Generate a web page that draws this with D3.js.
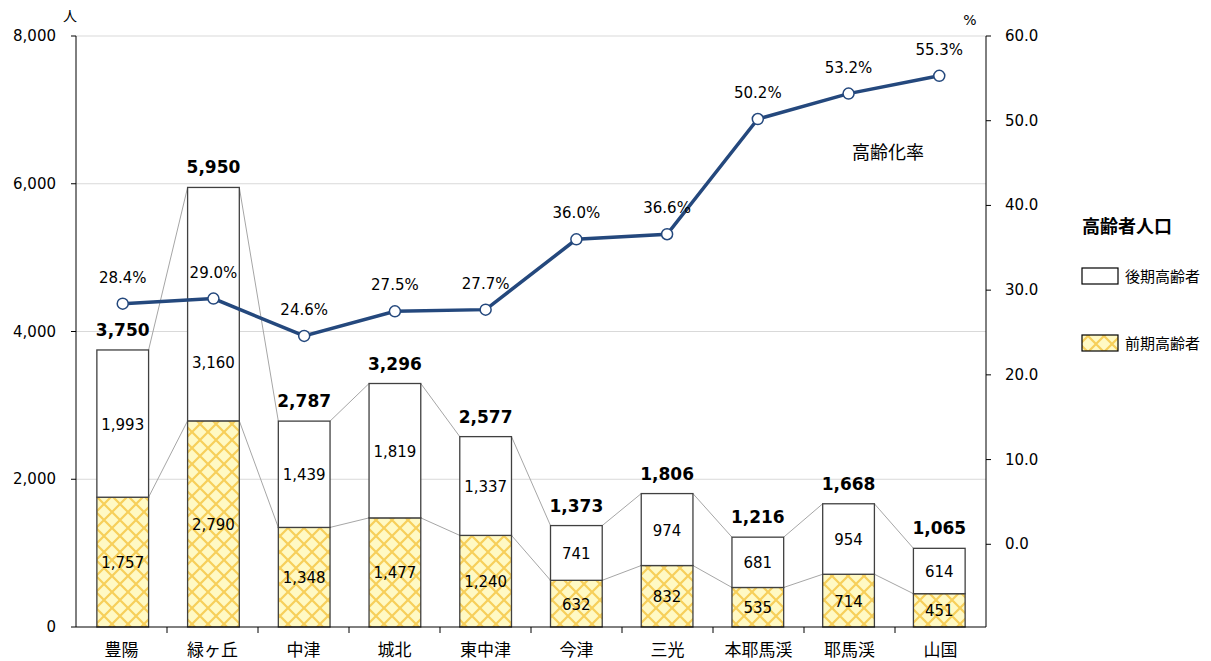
<!DOCTYPE html>
<html><head><meta charset="utf-8">
<script src="https://cdn.jsdelivr.net/npm/d3@7"></script>
<style>
body{margin:0;background:#fff;}
svg text{font-family:"DejaVu Sans","Noto Sans CJK JP",sans-serif;fill:#000;}
</style></head>
<body><svg id="c" width="1211" height="661"></svg>
<script>
const categories = ["豊陽","緑ヶ丘","中津","城北","東中津","今津","三光","本耶馬渓","耶馬渓","山国"];
const earlyElderly = [1757,2790,1348,1477,1240,632,832,535,714,451];
const lateElderly = [1993,3160,1439,1819,1337,741,974,681,954,614];
const agingRate = [28.4,29.0,24.6,27.5,27.7,36.0,36.6,50.2,53.2,55.3];
const leftTicks = [0,2000,4000,6000,8000];
const rightTicks = [0,10,20,30,40,50,60];
const seriesNames = ["後期高齢者","前期高齢者"];

const svg = d3.select("#c");
const L=76,R=986,T=36,B=627;
const x = d3.scaleBand().domain(categories).range([L,R]).paddingInner(0.43).paddingOuter(0.23);
const xb = d3.scaleBand().domain(categories).range([L,R]);
const y = d3.scaleLinear().domain([0,8000]).range([B,T]);
const y2 = d3.scaleLinear().domain([-10,60]).range([B+2,T]);

// pattern
const defs = svg.append("defs");
const pat = defs.append("pattern").attr("id","hatch").attr("patternUnits","userSpaceOnUse")
  .attr("width",16).attr("height",16);
pat.append("rect").attr("width",16).attr("height",16).attr("fill","#fff9c4");
pat.append("path").attr("d","M0,0L16,16M16,0L0,16M-8,8L8,24M8,-8L24,8M-8,8L8,-8M8,24L24,8")
  .attr("stroke","#f7cf5a").attr("stroke-width",2.2);

// gridlines
svg.append("g").selectAll("line").data(leftTicks.filter(d=>d>0)).join("line")
  .attr("x1",L).attr("x2",R).attr("y1",d=>y(d)).attr("y2",d=>y(d))
  .attr("stroke","#d9d9d9").attr("stroke-width",1);

// connector lines
const totals = categories.map((c,i)=>earlyElderly[i]+lateElderly[i]);
const conn = svg.append("g").attr("stroke","#a6a6a6").attr("stroke-width",1).attr("fill","none");
for(let i=0;i<categories.length-1;i++){
  const x1 = x(categories[i])+x.bandwidth(), x2 = x(categories[i+1]);
  conn.append("line").attr("x1",x1).attr("x2",x2).attr("y1",y(totals[i])).attr("y2",y(totals[i+1]));
  conn.append("line").attr("x1",x1).attr("x2",x2).attr("y1",y(earlyElderly[i])).attr("y2",y(earlyElderly[i+1]));
}

// bars
const bars = svg.append("g");
bars.selectAll("rect.e").data(categories).join("rect").attr("class","e")
  .attr("x",d=>x(d)).attr("width",x.bandwidth())
  .attr("y",(d,i)=>y(earlyElderly[i])).attr("height",(d,i)=>y(0)-y(earlyElderly[i]))
  .attr("fill","url(#hatch)").attr("stroke","#404040").attr("stroke-width",1.3);
bars.selectAll("rect.l").data(categories).join("rect").attr("class","l")
  .attr("x",d=>x(d)).attr("width",x.bandwidth())
  .attr("y",(d,i)=>y(totals[i])).attr("height",(d,i)=>y(earlyElderly[i])-y(totals[i]))
  .attr("fill","#fff").attr("stroke","#404040").attr("stroke-width",1.3);

const fmt = d3.format(",");
// segment labels
svg.append("g").selectAll("text").data(categories).join("text")
  .attr("x",d=>x(d)+x.bandwidth()/2).attr("y",(d,i)=>(y(0)+y(earlyElderly[i]))/2+6)
  .attr("text-anchor","middle").attr("font-size",15).text((d,i)=>fmt(earlyElderly[i]));
svg.append("g").selectAll("text").data(categories).join("text")
  .attr("x",d=>x(d)+x.bandwidth()/2)
  .attr("y",(d,i)=>(y(earlyElderly[i])+y(totals[i]))/2+6+(i===1?58:0))
  .attr("text-anchor","middle").attr("font-size",15).text((d,i)=>fmt(lateElderly[i]));
svg.append("g").selectAll("text").data(categories).join("text")
  .attr("x",d=>x(d)+x.bandwidth()/2).attr("y",(d,i)=>y(totals[i])-14)
  .attr("text-anchor","middle").attr("font-size",17).attr("font-weight","bold").text((d,i)=>fmt(totals[i]));

// axes
svg.append("line").attr("x1",L).attr("x2",L).attr("y1",T).attr("y2",B).attr("stroke","#000");
svg.append("line").attr("x1",R).attr("x2",R).attr("y1",T).attr("y2",B).attr("stroke","#000");
svg.append("line").attr("x1",L).attr("x2",R).attr("y1",B).attr("y2",B).attr("stroke","#000");
const gl = svg.append("g");
gl.selectAll("line").data(leftTicks).join("line").attr("x1",L-5).attr("x2",L).attr("y1",d=>y(d)).attr("y2",d=>y(d)).attr("stroke","#000");
gl.selectAll("text").data(leftTicks).join("text").attr("x",L-20).attr("y",d=>y(d)+5)
  .attr("text-anchor","end").attr("font-size",15).text(d=>fmt(d));
const gr = svg.append("g");
gr.selectAll("line").data(rightTicks).join("line").attr("x1",R).attr("x2",R+5).attr("y1",d=>y2(d)).attr("y2",d=>y2(d)).attr("stroke","#000");
gr.selectAll("text").data(rightTicks).join("text").attr("x",R+19).attr("y",d=>y2(d)+5)
  .attr("text-anchor","start").attr("font-size",15).text(d=>d.toFixed(1));
const gb = svg.append("g");
gb.selectAll("line").data(categories.slice(1)).join("line").attr("x1",d=>xb(d)).attr("x2",d=>xb(d))
  .attr("y1",B).attr("y2",B+6).attr("stroke","#000");
gb.selectAll("text").data(categories).join("text").attr("x",d=>xb(d)+xb.bandwidth()/2).attr("y",B+29)
  .attr("text-anchor","middle").attr("font-size",17).text(d=>d);

svg.append("text").attr("x",70).attr("y",21).attr("text-anchor","middle").attr("font-size",14).text("人");
svg.append("text").attr("x",970).attr("y",25).attr("text-anchor","middle").attr("font-size",14).text("%");

// line
const cx = (d)=>x(d)+x.bandwidth()/2;
svg.append("path").datum(categories)
  .attr("d",d3.line().x(d=>cx(d)).y((d,i)=>y2(agingRate[i])))
  .attr("fill","none").attr("stroke","#24487d").attr("stroke-width",3.5);
svg.append("g").selectAll("circle").data(categories).join("circle")
  .attr("cx",d=>cx(d)).attr("cy",(d,i)=>y2(agingRate[i])).attr("r",5.5)
  .attr("fill","#fff").attr("stroke","#24487d").attr("stroke-width",1.5);
svg.append("g").selectAll("text").data(categories).join("text")
  .attr("x",d=>cx(d)).attr("y",(d,i)=>y2(agingRate[i])-21)
  .attr("text-anchor","middle").attr("font-size",15).text((d,i)=>agingRate[i].toFixed(1)+"%");
svg.append("text").attr("x",852).attr("y",159).attr("font-size",18).text("高齢化率");

// legend
svg.append("text").attr("x",1082).attr("y",233).attr("font-size",18).attr("font-weight","bold").text("高齢者人口");
const lg = svg.append("g");
const lgY=[268,335];
lg.selectAll("rect").data(seriesNames).join("rect")
  .attr("x",1082).attr("y",(d,i)=>lgY[i]).attr("width",36).attr("height",16)
  .attr("fill",(d,i)=>i===0?"#fff":"url(#hatch)").attr("stroke","#000").attr("stroke-width",1.2);
lg.selectAll("text").data(seriesNames).join("text")
  .attr("x",1125).attr("y",(d,i)=>lgY[i]+14).attr("font-size",15).text(d=>d);
</script></body></html>
